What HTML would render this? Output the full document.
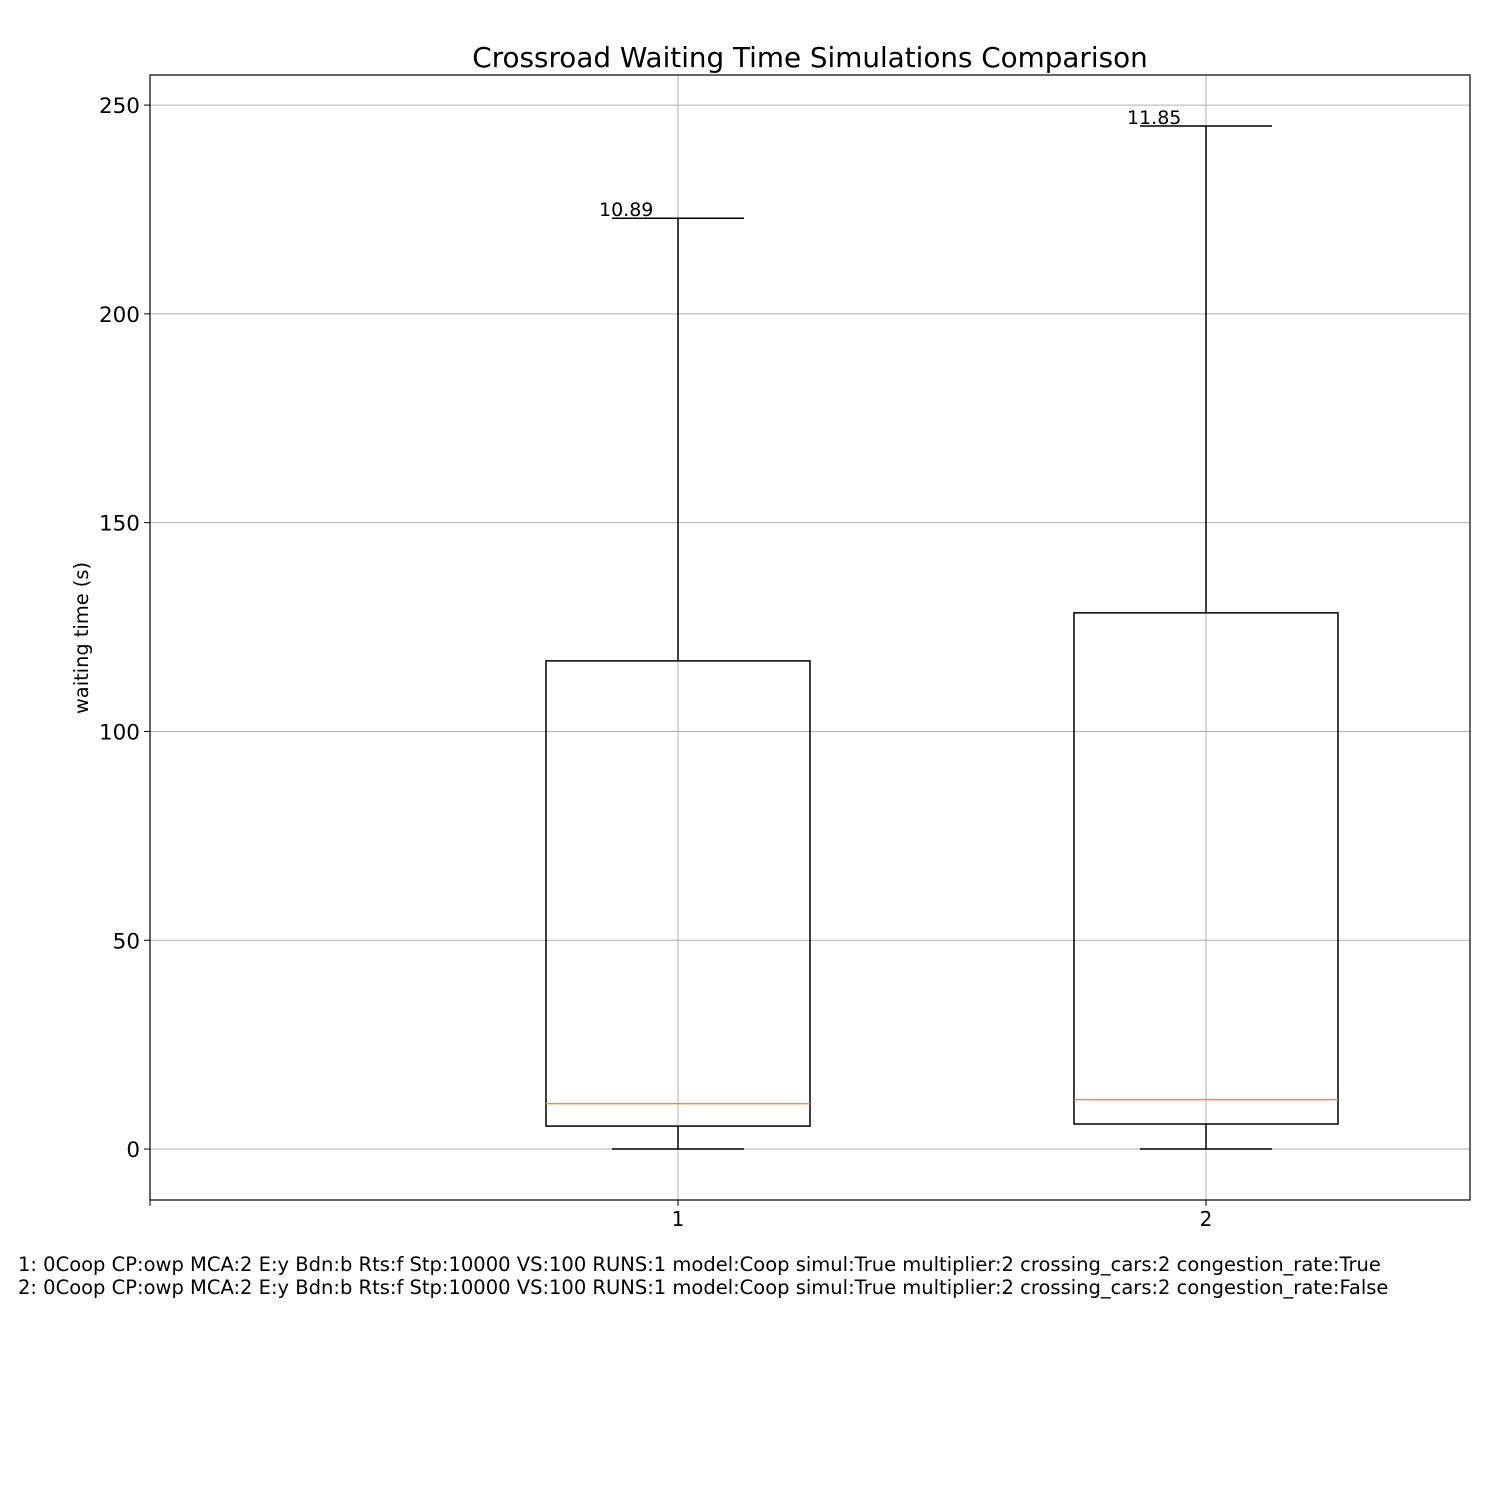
<!DOCTYPE html>
<html><head><meta charset="utf-8"><style>
body{margin:0;background:#fff;}
svg text{font-family:"DejaVu Sans","Liberation Sans",sans-serif;}
</style></head><body>
<svg id="chart" width="1500" height="1500" viewBox="0 0 1500 1500" xmlns="http://www.w3.org/2000/svg">
<rect width="1500" height="1500" fill="#fff"/>
<text x="810" y="67" font-size="27.8" text-anchor="middle">Crossroad Waiting Time Simulations Comparison</text>
<text transform="translate(88,638) rotate(-90)" font-size="19.4" text-anchor="middle">waiting time (s)</text>
<g id="grid"></g><g id="boxes"></g><g id="ticks"></g>
<rect x="150" y="75" width="1320" height="1125" fill="none" stroke="#000" stroke-width="1.2"/>
<g id="caption"></g>
</svg>
<script>
const categories=[1,2];
const lows=[0,0];
const q1s=[5.5,6.0];
const medians=[10.89,11.85];
const q3s=[116.9,128.4];
const highs=[222.9,245];
const medianLabels=["10.89","11.85"];
const yTicks=[0,50,100,150,200,250];
const captions=["1: 0Coop CP:owp MCA:2 E:y Bdn:b Rts:f Stp:10000 VS:100 RUNS:1 model:Coop simul:True multiplier:2 crossing_cars:2 congestion_rate:True","2: 0Coop CP:owp MCA:2 E:y Bdn:b Rts:f Stp:10000 VS:100 RUNS:1 model:Coop simul:True multiplier:2 crossing_cars:2 congestion_rate:False"];
const X0=150,X1=1470,Y0=75,Y1=1200;
const xmin=0,xmax=2.5,ymin=-12.2,ymax=257.2;
const sx=v=>X0+(v-xmin)/(xmax-xmin)*(X1-X0);
const sy=v=>Y1-(v-ymin)/(ymax-ymin)*(Y1-Y0);
const NS="http://www.w3.org/2000/svg";
function mk(tag,attrs,parent){const e=document.createElementNS(NS,tag);for(const k in attrs)e.setAttribute(k,attrs[k]);parent.appendChild(e);return e;}
const grid=document.getElementById('grid'),boxes=document.getElementById('boxes'),ticks=document.getElementById('ticks'),cap=document.getElementById('caption');
yTicks.forEach(t=>{
 const y=sy(t);
 let g=mk('line',{x1:X0,x2:X1,y1:y,y2:y,stroke:'#b0b0b0','stroke-width':1},grid);
 
 
 let tk=mk('line',{x1:X0-6,x2:X0,y1:y,y2:y,stroke:'#000','stroke-width':1},ticks);
 
 
 let tx=mk('text',{x:X0-10,y:y+8,'font-size':21.5,'text-anchor':'end'},ticks);
 tx.textContent=t;
 
 
});
[0].concat(categories).forEach(c=>{
 const x=sx(c);
 if(c>0){let g=mk('line',{x1:x,x2:x,y1:Y0,y2:Y1,stroke:'#b0b0b0','stroke-width':1},grid);
 
 }
 let tk=mk('line',{x1:x,x2:x,y1:Y1,y2:Y1+6,stroke:'#000','stroke-width':1},ticks);
 
 
 if(c>0){let tx=mk('text',{x:x,y:Y1+26,'font-size':20,'text-anchor':'middle'},ticks);
 tx.textContent=c;
 
 }
});
categories.forEach((c,i)=>{
 const x=sx(c),bw=sx(0.25)-sx(0),cw=sx(0.125)-sx(0);
 const g=mk('g',{},boxes);
 
 
 mk('line',{x1:x,x2:x,y1:sy(q3s[i]),y2:sy(highs[i]),stroke:'#000','stroke-width':1.5},g);
 mk('line',{x1:x,x2:x,y1:sy(q1s[i]),y2:sy(lows[i]),stroke:'#000','stroke-width':1.5},g);
 mk('line',{x1:x-cw,x2:x+cw,y1:sy(highs[i]),y2:sy(highs[i]),stroke:'#000','stroke-width':1.5},g);
 mk('line',{x1:x-cw,x2:x+cw,y1:sy(lows[i]),y2:sy(lows[i]),stroke:'#000','stroke-width':1.5},g);
 mk('rect',{x:x-bw,y:sy(q3s[i]),width:2*bw,height:sy(q1s[i])-sy(q3s[i]),fill:'none',stroke:'#000','stroke-width':1.5},g);
 mk('line',{x1:x-bw,x2:x+bw,y1:sy(medians[i]),y2:sy(medians[i]),stroke:'#f08a4b','stroke-width':1.5},g);
 const t=mk('text',{x:x-79,y:sy(highs[i])-2,'font-size':19},g);
 t.textContent=medianLabels[i];
 
 
});
captions.forEach((s,i)=>{
 const t=mk('text',{x:18,y:1271+i*23,'font-size':19.5},cap);
 t.textContent=s;
 
 
});
</script>
</body></html>
